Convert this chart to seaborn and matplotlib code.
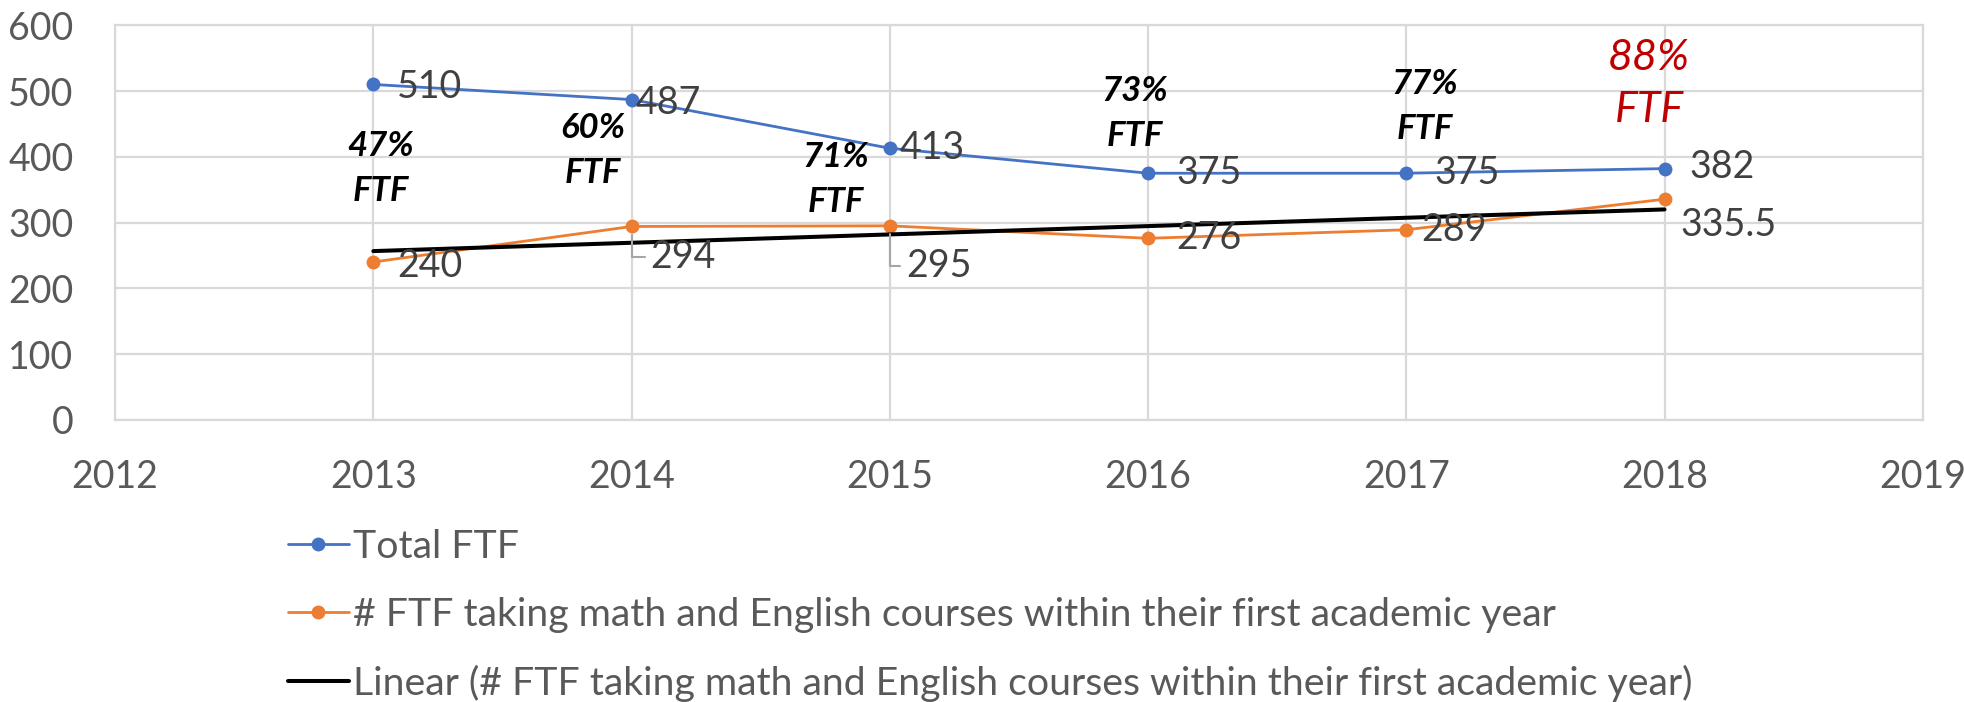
import numpy as np
import pandas as pd
import matplotlib.pyplot as plt
import seaborn as sns

# chart values
years = [2013, 2014, 2015, 2016, 2017, 2018]
total_ftf = [510, 487, 413, 375, 375, 382]
math_eng_ftf = [240, 294, 295, 276, 289, 335.5]
pct_labels = ['47%\nFTF', '60%\nFTF', '71%\nFTF', '73%\nFTF', '77%\nFTF', '88%\nFTF']
pct_x = [2013.03, 2013.85, 2014.79, 2015.95, 2017.07, 2017.94]
pct_y = [382, 410, 366, 466, 477, 510]
x_ticks = [2012, 2013, 2014, 2015, 2016, 2017, 2018, 2019]
y_ticks = [0, 100, 200, 300, 400, 500, 600]

name_total = 'Total FTF'
name_me = '# FTF taking math and English courses within their first academic year'
name_lin = 'Linear (# FTF taking math and English courses within their first academic year)'

# label offsets in pixels (left edge of text relative to point)
off_total = [(24, -3), (4, -3), (10, 0), (28, 0), (28, 0), (25, 2)]
off_me = [(24, -4), (19, -31), (16, -40), (28, 0), (15, 0), (16, -26)]

blue = '#4472C4'
orange = '#ED7D31'
grid_c = '#D9D9D9'
tick_c = '#595959'
lab_c = '#404040'

df = pd.DataFrame({'year': years, 'total': total_ftf, 'me': math_eng_ftf})

sns.set_theme(style='white')
plt.rcParams['font.family'] = ['Lato', 'DejaVu Sans']

fig = plt.figure(figsize=(19.64, 7.02), dpi=100)
ax = fig.add_axes([0.0586, 0.402, 0.9204, 0.562])

sns.lineplot(data=df, x='year', y='total', color=blue, marker='o', markersize=10,
             markeredgewidth=0, linewidth=2.0, label=name_total, ax=ax)
sns.lineplot(data=df, x='year', y='me', color=orange, marker='o', markersize=10,
             markeredgewidth=0, linewidth=2.0, label=name_me, ax=ax)
sns.regplot(data=df, x='year', y='me', scatter=False, ci=None, color='black',
            line_kws=dict(linewidth=2.9), label=name_lin, ax=ax)

ax.set_xlim(2012, 2019)
ax.set_ylim(0, 600)
ax.set_xticks(x_ticks)
ax.set_yticks(y_ticks)
ax.set_xlabel('')
ax.set_ylabel('')
ax.grid(True, color=grid_c, linewidth=1.6)
ax.set_axisbelow(True)
for s in ax.spines.values():
    s.set_color(grid_c)
    s.set_linewidth(1.6)
ax.tick_params(axis='both', length=0, labelsize=27, colors=tick_c)
ax.tick_params(axis='x', pad=28)
ax.tick_params(axis='y', pad=30)

# data labels
for x, y, off in zip(years, total_ftf, off_total):
    ax.annotate(f'{y:g}', (x, y), xytext=off, textcoords='offset pixels',
                ha='left', va='center', fontsize=27, color=lab_c)
for x, y, off in zip(years, math_eng_ftf, off_me):
    arrow = None
    if off[1] < -28 and x < 2016:
        arrow = dict(arrowstyle='-', color='#A6A6A6', lw=1.5, shrinkA=2, shrinkB=6,
                     connectionstyle='angle,angleA=0,angleB=90,rad=0')
    ax.annotate(f'{y:g}', (x, y), xytext=off, textcoords='offset pixels',
                ha='left', va='center', fontsize=27, color=lab_c, arrowprops=arrow)

# percent annotations
for i, (t, x, y) in enumerate(zip(pct_labels, pct_x, pct_y)):
    if i == len(pct_labels) - 1:
        ax.text(x, y, t, ha='center', va='center', fontsize=31, style='italic',
                color='#C00000', linespacing=1.45)
    else:
        ax.text(x, y, t, ha='center', va='center', fontsize=25, style='italic',
                fontweight='bold', color='black', linespacing=1.5)

ax.legend_.remove() if ax.legend_ else None
handles, labels = ax.get_legend_handles_labels()
fig.legend(handles, labels, loc='upper left', bbox_to_anchor=(0.1466, 0.247),
           frameon=False, fontsize=28.3, labelcolor=tick_c, handlelength=1.55,
           handletextpad=0.1, labelspacing=0.82, borderpad=0, borderaxespad=0)

fig.savefig('out.png', dpi=100)
